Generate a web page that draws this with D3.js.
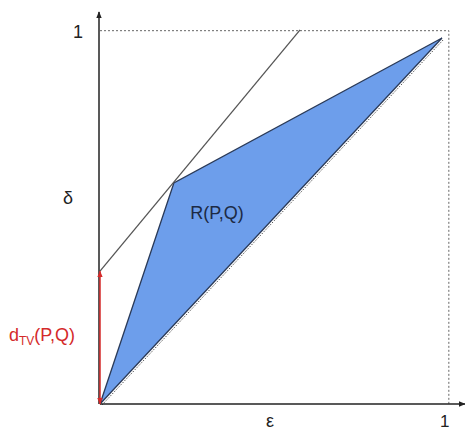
<!DOCTYPE html>
<html>
<head>
<meta charset="utf-8">
<script src="https://cdn.jsdelivr.net/npm/d3@7"></script>
<style>
  body { margin: 0; background: #fff; }
  svg { display: block; font-family: Arial, "Liberation Sans", sans-serif; }
</style>
</head>
<body>
<svg id="chart" width="465" height="432"></svg>
<script>
// region R(P,Q): origin, kink, (1,1)
const regionPts = [[0, 0], [0.216, 0.604], [1, 1]];
// supporting line touching the kink
const tangentPts = [[0, 0.363], [0.585, 1.022]];
const diagonalPts = [[0, 0], [1, 1]];
const dtv = 0.363;
const boxMax = 1.02;
const tickLabels = ["1"];

const width = 465;
const height = 432;

const x = d3.scaleLinear().domain([0, 1]).range([100, 442]);
const y = d3.scaleLinear().domain([0, 1]).range([404, 38]);

const svg = d3.select("#chart");
const defs = svg.append("defs");

function marker(id, color, size, orient) {
  defs.append("marker")
    .attr("id", id)
    .attr("viewBox", "0 0 10 10")
    .attr("refX", 9).attr("refY", 5)
    .attr("markerWidth", size).attr("markerHeight", size)
    .attr("markerUnits", "userSpaceOnUse")
    .attr("orient", orient)
    .append("path")
    .attr("d", "M0,1 L10,5 L0,9 Z")
    .attr("fill", color);
}
marker("arrBlack", "#222", 7, "auto");
marker("arrRed", "#d42a2a", 7, "auto-start-reverse");

const line = d3.line().x(d => x(d[0])).y(d => y(d[1]));

// dotted frame at 1
svg.append("path")
  .attr("d", line([[0, boxMax], [boxMax, boxMax], [boxMax, 0]]))
  .attr("fill", "none")
  .attr("stroke", "#666")
  .attr("stroke-width", 1)
  .attr("stroke-dasharray", "2,2");

// dotted diagonal just under the region
svg.append("path")
  .attr("d", line(diagonalPts))
  .attr("transform", "translate(2,1)")
  .attr("fill", "none")
  .attr("stroke", "#555")
  .attr("stroke-width", 1)
  .attr("stroke-dasharray", "1.5,1.5");

// region
svg.append("path")
  .attr("d", line(regionPts) + "Z")
  .attr("fill", "#6d9eeb")
  .attr("stroke", "#2a3a58")
  .attr("stroke-width", 1.3);

// tangent line
svg.append("path")
  .attr("d", line(tangentPts))
  .attr("fill", "none")
  .attr("stroke", "#555")
  .attr("stroke-width", 1.3);

// axes
svg.append("line")
  .attr("x1", x(0) - 1).attr("y1", y(0))
  .attr("x2", x(0) - 1).attr("y2", 12)
  .attr("stroke", "#222").attr("stroke-width", 1.5)
  .attr("marker-end", "url(#arrBlack)");
svg.append("line")
  .attr("x1", x(0)).attr("y1", y(0))
  .attr("x2", 465).attr("y2", y(0))
  .attr("stroke", "#222").attr("stroke-width", 1.5)
  .attr("marker-end", "url(#arrBlack)");

// d_TV arrow
svg.append("line")
  .attr("x1", x(0)).attr("y1", y(0))
  .attr("x2", x(0)).attr("y2", y(dtv))
  .attr("stroke", "#d42a2a").attr("stroke-width", 1.5)
  .attr("marker-start", "url(#arrRed)")
  .attr("marker-end", "url(#arrRed)");

// tick labels
svg.append("text")
  .attr("x", x(0) - 22).attr("y", y(boxMax) + 7)
  .attr("font-size", 18).attr("fill", "#222")
  .attr("text-anchor", "middle")
  .text(tickLabels[0]);
svg.append("text")
  .attr("x", x(boxMax) - 4).attr("y", 427)
  .attr("font-size", 17).attr("fill", "#222")
  .attr("text-anchor", "middle")
  .text(tickLabels[0]);

// axis names
svg.append("text")
  .attr("x", 68).attr("y", 204)
  .attr("font-size", 18).attr("fill", "#222")
  .attr("text-anchor", "middle")
  .text("δ");
svg.append("text")
  .attr("x", 270).attr("y", 427)
  .attr("font-size", 18).attr("fill", "#222")
  .attr("text-anchor", "middle")
  .text("ε");

// region label
svg.append("text")
  .attr("x", 217).attr("y", 219)
  .attr("font-size", 18).attr("fill", "#1c2a44")
  .attr("text-anchor", "middle")
  .text("R(P,Q)");

// d_TV label
const dl = svg.append("text")
  .attr("x", 9).attr("y", 341)
  .attr("font-size", 18).attr("fill", "#d42a2a");
dl.append("tspan").text("d");
dl.append("tspan").attr("font-size", 12).attr("dy", 4).text("TV");
dl.append("tspan").attr("dy", -4).text("(P,Q)");
</script>
</body>
</html>
